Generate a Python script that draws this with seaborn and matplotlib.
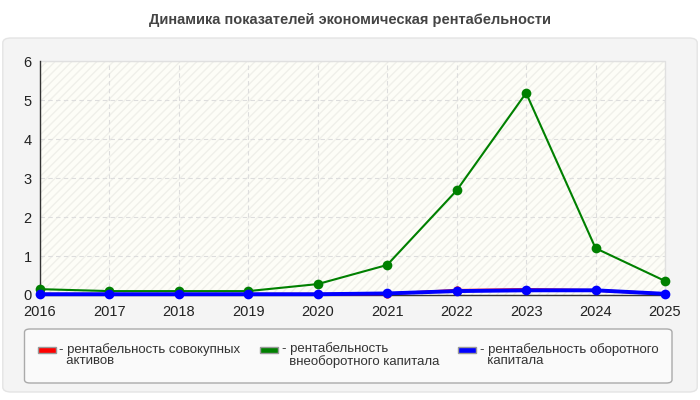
import numpy as np
import pandas as pd
import matplotlib
matplotlib.use("Agg")
import matplotlib.pyplot as plt
from matplotlib.patches import FancyBboxPatch, Patch
import seaborn as sns

years = [2016, 2017, 2018, 2019, 2020, 2021, 2022, 2023, 2024, 2025]
total_assets = [0.02, 0.02, 0.02, 0.02, 0.02, 0.03, 0.12, 0.14, 0.12, 0.03]
noncurrent = [0.15, 0.10, 0.10, 0.10, 0.28, 0.77, 2.68, 5.18, 1.20, 0.36]
current = [0.02, 0.02, 0.02, 0.02, 0.02, 0.04, 0.10, 0.12, 0.12, 0.03]

labels = ["рентабельность совокупных\nактивов",
          "рентабельность\nвнеоборотного капитала",
          "рентабельность оборотного\nкапитала"]
colors = ["#ff0000", "#008000", "#0000ff"]
title = "Динамика показателей экономическая рентабельности"

sns.set_style("white")
plt.rcParams['font.family'] = ['Liberation Sans', 'DejaVu Sans']

fig = plt.figure(figsize=(7, 4), dpi=100)
fig.patch.set_facecolor("white")

# outer grey panel
panel = FancyBboxPatch((0.004, 0.02), 0.992, 0.885, boxstyle="round,pad=0,rounding_size=0.012",
                       transform=fig.transFigure, facecolor="#f4f4f4", edgecolor="#e4e4e4",
                       lw=1, zorder=-10)
fig.patches.append(panel)

# legend box
legbox = FancyBboxPatch((0.035, 0.0425), 0.925, 0.135, boxstyle="round,pad=0,rounding_size=0.008",
                        transform=fig.transFigure, facecolor="#fafafa", edgecolor="#aaaaaa",
                        lw=1, zorder=-5)
fig.patches.append(legbox)

fig.text(0.5, 0.95, title, ha="center", va="center", fontsize=10.5, fontweight="bold", color="#444444")

ax = fig.add_axes([0.057, 0.2625, 0.893, 0.585])
ax.set_zorder(1)
ax.set_facecolor("#fdfdf7")
ax.patch.set_hatch("////")
ax.patch.set_edgecolor("#f0f0ea")

df = pd.DataFrame({"year": years, "a": total_assets, "b": noncurrent, "c": current})
sns.lineplot(data=df, x="year", y="a", color=colors[0], lw=2, marker="o", markersize=6,
             markeredgewidth=0, ax=ax, zorder=3, clip_on=False)
sns.lineplot(data=df, x="year", y="b", color=colors[1], lw=1.5, marker="o", markersize=7,
             markeredgewidth=0, ax=ax, zorder=4, clip_on=False)
sns.lineplot(data=df, x="year", y="c", color=colors[2], lw=2.8, marker="o", markersize=7,
             markeredgewidth=0, ax=ax, zorder=5, clip_on=False)

ax.set_xlim(2016, 2025)
ax.set_ylim(0, 6)
ax.set_xticks(years)
ax.set_yticks(range(0, 7))
ax.set_xlabel("")
ax.set_ylabel("")
ax.grid(True, ls=(0, (4, 3)), color="#dddddd", lw=0.8)
for s in ["top", "right"]:
    ax.spines[s].set_visible(False)
for s in ["left", "bottom"]:
    ax.spines[s].set_color("#333333")
    ax.spines[s].set_linewidth(1)
ax.tick_params(axis="both", labelsize=10.5, colors="#222222", width=1)
ax.tick_params(axis="y", length=4, pad=2, color="#333333")
ax.tick_params(axis="x", length=5, pad=2, color="#dddddd")
# light top/right frame like the reference
ax.plot([2016, 2025, 2025], [6, 6, 0], color="#e0e0e0", lw=1, clip_on=False, zorder=1)

handles = [Patch(facecolor=c, edgecolor="#999999", label="- " + l.replace("\n", "\n  "))
           for c, l in zip(colors, labels)]
leg = fig.legend(handles=handles, loc="upper left", bbox_to_anchor=(0.035, 0.0425, 0.925, 0.135),
                 mode="expand", ncol=3, frameon=False, fontsize=9.5, handlelength=1.35,
                 handleheight=2.0, handletextpad=0.3, borderpad=0.5, columnspacing=1.5,
                 labelcolor="#333333")
for t in leg.get_texts():
    t.set_linespacing(0.95)
# move colour swatches up to the first text line
for h in leg.legend_handles:
    y0, hh = h.get_y(), h.get_height()
    h.set_y(y0 + hh * 0.6)
    h.set_height(hh * 0.3)

fig.savefig("out.png", dpi=100)
